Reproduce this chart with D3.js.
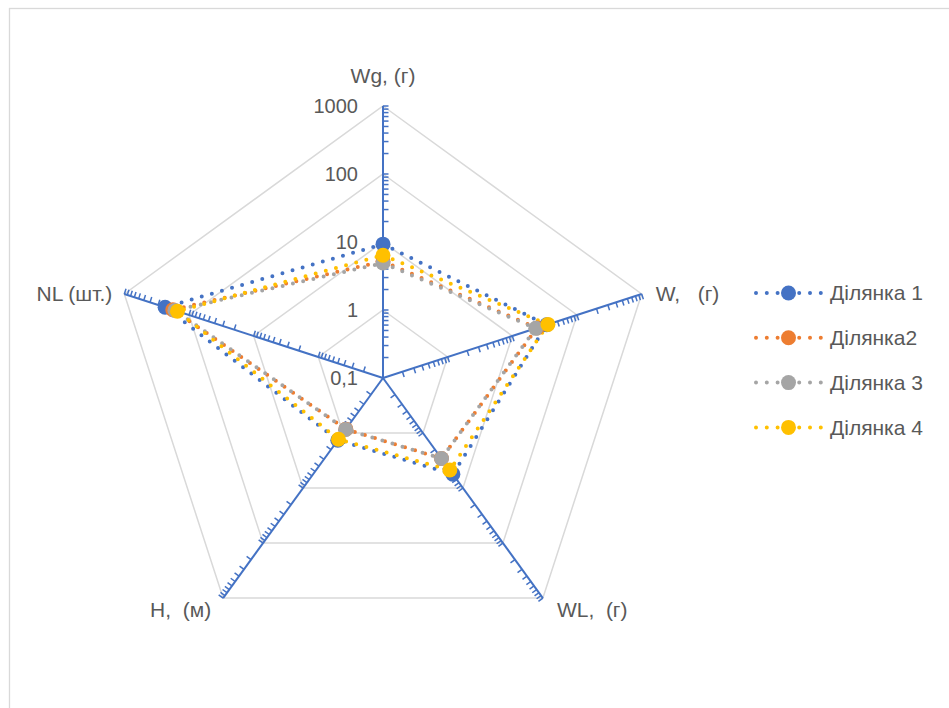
<!DOCTYPE html>
<html>
<head>
<meta charset="utf-8">
<script src="https://cdn.jsdelivr.net/npm/d3@7"></script>
<style>
  body { margin: 0; background: #fff; }
  text { font-family: "Liberation Sans", Arial, sans-serif; fill: #595959; }
</style>
</head>
<body>
<svg width="949" height="708"></svg>
<script>
// axes (clockwise from top)
const categories = ["Wg, (г)", "W,   (г)", "WL,  (г)", "H,  (м)", "NL (шт.)"];
const seriesNames = ["Ділянка 1", "Ділянка2", "Ділянка 3", "Ділянка 4"];
const ser1 = [9.3, 34, 5.6, 1.35, 234];
const ser2 = [5.2, 24, 2.9, 0.85, 178];
const ser3 = [4.9, 23, 2.9, 0.86, 165];
const ser4 = [6.4, 35.5, 4.7, 1.3, 151];
const tickValues = [0.1, 1, 10, 100, 1000];
const tickLabels = ["0,1", "1", "10", "100", "1000"];
const colors = ["#4472C4", "#ED7D31", "#A5A5A5", "#FFC000"];

const allSeries = [ser1, ser2, ser3, ser4];

const svg = d3.select("svg");
const cx = 383, cy = 378, R = 272;

// chart area border
svg.append("rect")
  .attr("x", 9.5).attr("y", 8.5)
  .attr("width", 1000).attr("height", 800)
  .attr("fill", "none")
  .attr("stroke", "#D9D9D9")
  .attr("stroke-width", 1.3);

const g = svg.append("g").attr("transform", `translate(${cx},${cy})`);

const rScale = d3.scaleLog().domain([0.1, 1000]).range([0, R]);
const angle = d3.scaleLinear().domain([0, categories.length]).range([0, 2 * Math.PI]);

function pt(i, r) {
  const a = angle(i);
  return [r * Math.sin(a), -r * Math.cos(a)];
}

// grid pentagons
const gridLine = d3.lineRadial()
  .angle((d, i) => angle(i))
  .radius(d => rScale(d))
  .curve(d3.curveLinearClosed);

g.selectAll(".grid")
  .data(tickValues.filter(v => v > 0.1))
  .enter().append("path")
  .attr("class", "grid")
  .attr("d", v => gridLine(categories.map(() => v)))
  .attr("fill", "none")
  .attr("stroke", "#D9D9D9")
  .attr("stroke-width", 1.5);

// axis lines with log ticks
const minorTicks = [];
[0.1, 1, 10, 100].forEach(base => {
  for (let m = 1; m <= 9; m++) minorTicks.push(base * m);
});
minorTicks.push(1000);

categories.forEach((c, i) => {
  const end = pt(i, R);
  g.append("line")
    .attr("x1", 0).attr("y1", 0)
    .attr("x2", end[0]).attr("y2", end[1])
    .attr("stroke", "#4472C4")
    .attr("stroke-width", 2);
  const a = angle(i);
  const nx = Math.cos(a), ny = Math.sin(a); // clockwise normal
  g.selectAll(".tick" + i)
    .data(minorTicks.filter(v => v > 0.1))
    .enter().append("line")
    .attr("x1", v => pt(i, rScale(v))[0])
    .attr("y1", v => pt(i, rScale(v))[1])
    .attr("x2", v => pt(i, rScale(v))[0] + nx * 5.5)
    .attr("y2", v => pt(i, rScale(v))[1] + ny * 5.5)
    .attr("stroke", "#4472C4")
    .attr("stroke-width", 1.5);
});

// value labels on first axis
g.selectAll(".vlabel")
  .data(tickValues)
  .enter().append("text")
  .attr("x", -25)
  .attr("y", v => -rScale(v))
  .attr("dy", "0.35em")
  .attr("text-anchor", "end")
  .style("font-size", "20px")
  .text((v, i) => tickLabels[i]);

// category labels
categories.forEach((c, i) => {
  const end = pt(i, R);
  let x = end[0], y = end[1], anchor = "middle";
  if (Math.abs(end[0]) < 1) {
    y = end[1] - 30;
  } else {
    anchor = end[0] > 0 ? "start" : "end";
    x = end[0] + (end[0] > 0 ? 14 : -12);
    y = end[1] > 0 ? end[1] + 12 : end[1];
  }
  g.append("text")
    .attr("x", x).attr("y", y)
    .attr("dy", "0.35em")
    .attr("text-anchor", anchor)
    .style("font-size", "21px")
    .style("white-space", "pre")
    .attr("xml:space", "preserve")
    .text(c);
});

// series
const seriesLine = d3.lineRadial()
  .angle((d, i) => angle(i))
  .radius(d => rScale(d))
  .curve(d3.curveLinearClosed);

allSeries.forEach((s, k) => {
  g.append("path")
    .attr("d", seriesLine(s))
    .attr("fill", "none")
    .attr("stroke", colors[k])
    .attr("stroke-width", 4)
    .attr("stroke-linecap", "round")
    .attr("stroke-dasharray", "0,10.5");
});
allSeries.forEach((s, k) => {
  g.selectAll(".m" + k)
    .data(s)
    .enter().append("circle")
    .attr("cx", (d, i) => pt(i, rScale(d))[0])
    .attr("cy", (d, i) => pt(i, rScale(d))[1])
    .attr("r", 7.5)
    .attr("fill", colors[k]);
});

// legend
const legend = svg.append("g");
seriesNames.forEach((name, k) => {
  const y = 293 + k * 44.8;
  legend.append("line")
    .attr("x1", 756).attr("x2", 822)
    .attr("y1", y).attr("y2", y)
    .attr("stroke", colors[k])
    .attr("stroke-width", 4)
    .attr("stroke-linecap", "round")
    .attr("stroke-dasharray", "0,10.8");
  legend.append("circle")
    .attr("cx", 788.5).attr("cy", y)
    .attr("r", 7.5)
    .attr("fill", colors[k]);
  legend.append("text")
    .attr("x", 830).attr("y", y)
    .attr("dy", "0.35em")
    .style("font-size", "21px")
    .text(name);
});
</script>
</body>
</html>
